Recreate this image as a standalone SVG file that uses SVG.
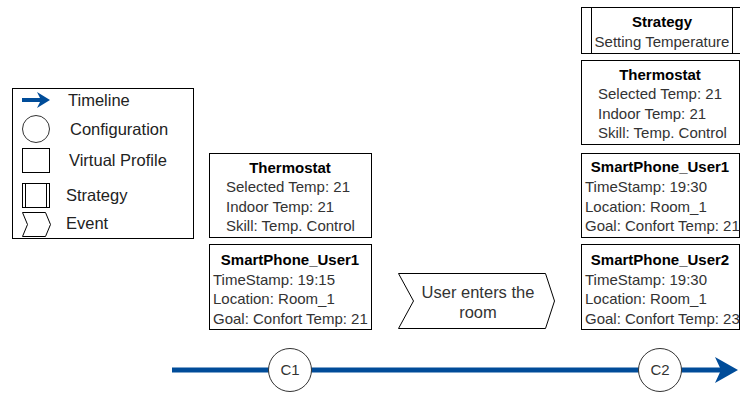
<svg xmlns="http://www.w3.org/2000/svg" width="740" height="394" viewBox="0 0 740 394">
<style>
.box{fill:#fff;stroke:#000;stroke-width:1}
.t{font-family:"Liberation Sans",Arial,sans-serif;font-size:15px;fill:#333}
.b{font-weight:bold;fill:#000}
.c{text-anchor:middle}
.ev{font-size:16.5px}
.lg{font-family:"Liberation Sans",Arial,sans-serif;font-size:16.5px;fill:#222}
.circ{fill:#fff;stroke:#333;stroke-width:1}
.tl{stroke:#004C99;stroke-width:5;fill:none}
</style>
<rect width="740" height="394" fill="#fff"/>
<g id="legend">
<rect class="box" x="12.5" y="88.5" width="181" height="150"/>
<line x1="22" y1="100" x2="42" y2="100" stroke="#004C99" stroke-width="4"/>
<path d="M50,100 L37,92 L41,100 L37,108 Z" fill="#004C99"/>
<text class="lg" x="68" y="106">Timeline</text>
<circle class="circ" cx="36" cy="129" r="13.5"/>
<text class="lg" x="70" y="135">Configuration</text>
<rect class="box" x="22.5" y="148.5" width="27" height="24"/>
<text class="lg" x="69" y="166">Virtual Profile</text>
<rect class="box" x="22.5" y="183.5" width="27" height="24"/>
<line x1="25.5" y1="183.5" x2="25.5" y2="207.5" stroke="#000"/>
<line x1="46.5" y1="183.5" x2="46.5" y2="207.5" stroke="#000"/>
<text class="lg" x="66" y="201">Strategy</text>
<path class="box" d="M22.5,212.5 L45.5,212.5 L50.5,224.5 L45.5,236.5 L22.5,236.5 L27.5,224.5 Z"/>
<text class="lg" x="66" y="229">Event</text>
</g>
<g id="connectors">
<line class="tl" x1="172" y1="370" x2="724" y2="370"/>
<path d="M738,370 L715,357 L721,370 L715,383 Z" fill="#004C99"/>
</g>
<g id="c1">
<circle class="circ" cx="290" cy="370" r="21.5"/>
<text class="t c" x="290" y="375">C1</text>
</g>
<g id="c2">
<circle class="circ" cx="660" cy="370" r="21.5"/>
<text class="t c" x="660" y="375">C2</text>
</g>
<g id="thermostat1">
<rect class="box" x="209.5" y="153.5" width="162" height="84"/>
<text class="t b c" x="290" y="173">Thermostat</text>
<text class="t" x="226" y="192">Selected Temp: 21</text>
<text class="t" x="226" y="212">Indoor Temp: 21</text>
<text class="t" x="226" y="231">Skill: Temp. Control</text>
</g>
<g id="smartphone1_c1">
<rect class="box" x="209.5" y="244.5" width="162" height="85"/>
<text class="t b c" x="290" y="265">SmartPhone_User1</text>
<text class="t" x="213" y="285">TimeStamp: 19:15</text>
<text class="t" x="213" y="304">Location: Room_1</text>
<text class="t" x="213" y="324">Goal: Confort Temp: 21</text>
</g>
<g id="event">
<path class="box" d="M398.5,273.5 L545.5,273.5 L554.5,301 L545.5,328.5 L398.5,328.5 L413.5,301 Z"/>
<text class="t c ev" x="478" y="298">User enters the</text>
<text class="t c ev" x="478" y="318">room</text>
</g>
<g id="strategy">
<rect class="box" x="581.5" y="7.5" width="162" height="46"/>
<line x1="591.5" y1="7.5" x2="591.5" y2="53.5" stroke="#000"/>
<line x1="732.5" y1="7.5" x2="732.5" y2="53.5" stroke="#000"/>
<text class="t b c" x="662" y="27">Strategy</text>
<text class="t c" x="662" y="47">Setting Temperature</text>
</g>
<g id="thermostat2">
<rect class="box" x="581.5" y="60.5" width="158" height="84"/>
<text class="t b c" x="660" y="80">Thermostat</text>
<text class="t" x="598" y="99">Selected Temp: 21</text>
<text class="t" x="598" y="119">Indoor Temp: 21</text>
<text class="t" x="598" y="138">Skill: Temp. Control</text>
</g>
<g id="smartphone1_c2">
<rect class="box" x="581.5" y="153.5" width="158" height="84"/>
<text class="t b c" x="660" y="172">SmartPhone_User1</text>
<text class="t" x="585" y="192">TimeStamp: 19:30</text>
<text class="t" x="585" y="212">Location: Room_1</text>
<text class="t" x="585" y="231">Goal: Confort Temp: 21</text>
</g>
<g id="smartphone2_c2">
<rect class="box" x="581.5" y="244.5" width="158" height="85"/>
<text class="t b c" x="660" y="265">SmartPhone_User2</text>
<text class="t" x="585" y="285">TimeStamp: 19:30</text>
<text class="t" x="585" y="304">Location: Room_1</text>
<text class="t" x="585" y="324">Goal: Confort Temp: 23</text>
</g>
</svg>
